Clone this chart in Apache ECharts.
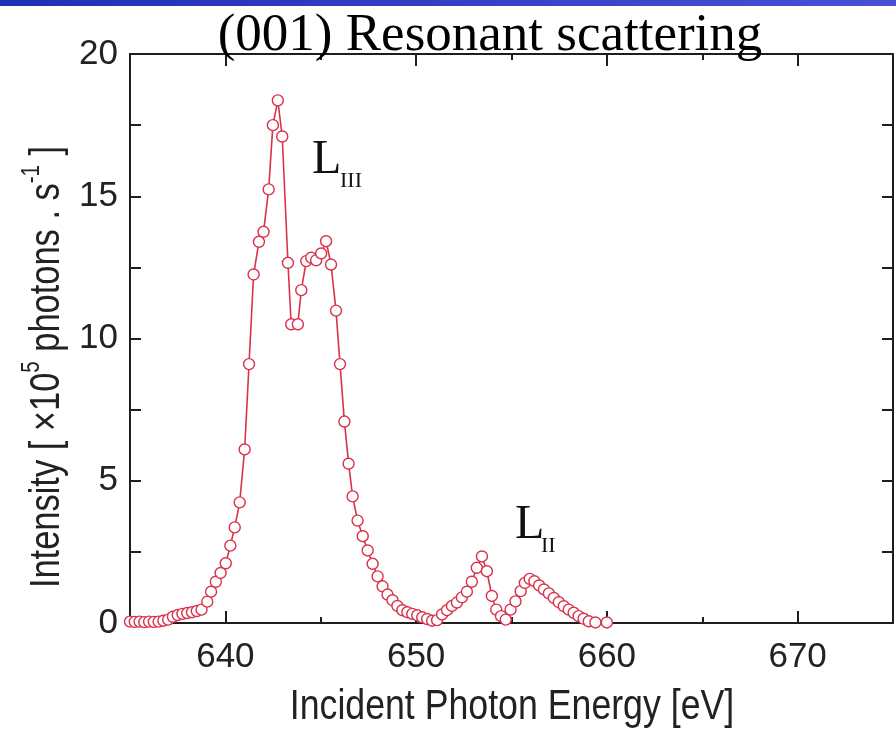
<!DOCTYPE html>
<html>
<head>
<meta charset="utf-8">
<script src="https://cdn.jsdelivr.net/npm/echarts@6/dist/echarts.min.js"></script>
<style>
html,body{margin:0;padding:0;background:#fff;}
#chart{width:896px;height:729px;}
</style>
</head>
<body>
<div id="chart"></div>
<script>
const energy = [
  635.0,635.25,635.5,635.75,636.0,636.25,636.5,636.75,637.0,637.25,637.5,637.75,638.0,638.25,638.5,638.75,
  639.05,639.25,639.5,639.75,640.02,640.26,640.49,640.75,641.01,641.24,641.48,641.76,
  642.0,642.27,642.49,642.75,642.98,643.28,643.45,643.8,643.98,644.24,644.5,644.76,
  645.02,645.28,645.54,645.8,646.01,646.24,646.46,646.67,646.93,647.2,647.46,647.72,647.98,
  648.24,648.5,648.76,649.02,649.28,649.54,649.8,650.06,650.32,650.58,650.84,
  651.1,651.36,651.62,651.88,652.14,652.4,652.66,652.92,653.18,653.45,653.71,653.97,
  654.2,654.45,654.7,654.95,655.21,655.48,655.7,655.95,656.2,656.45,656.7,656.96,
  657.22,657.48,657.74,658.0,658.26,658.52,658.78,659.05,659.4,660.0
];
const intensity = [
  0.05,0.04,0.05,0.03,0.05,0.04,0.05,0.08,0.12,0.22,0.28,0.32,0.35,0.38,0.42,0.47,
  0.75,1.1,1.45,1.76,2.1,2.72,3.36,4.24,6.1,9.1,12.25,13.4,
  13.75,15.24,17.5,18.37,17.1,12.66,10.5,10.5,11.7,12.72,12.84,12.75,
  12.99,13.42,12.6,10.98,9.1,7.08,5.6,4.45,3.6,3.05,2.55,2.08,1.64,
  1.29,1.0,0.8,0.6,0.45,0.38,0.32,0.27,0.2,0.14,0.08,
  0.1,0.3,0.45,0.6,0.72,0.9,1.1,1.45,1.94,2.34,1.82,0.95,
  0.47,0.24,0.12,0.47,0.76,1.12,1.41,1.55,1.47,1.32,1.18,1.04,
  0.88,0.73,0.59,0.47,0.36,0.24,0.15,0.06,0.02,0.02
];
const xMajorTicks = [640, 650, 660, 670];
const xMinorTicks = [645, 655, 665];
const titleText = '(001) Resonant scattering';
const xName = 'Incident Photon Energy [eV]';

const ink = '#1e1e1e';
const red = '#d9324a';
const sans = '"Liberation Sans", Arial, sans-serif';
const serif = '"Liberation Serif", "Times New Roman", serif';

const chart = echarts.init(document.getElementById('chart'), null, {renderer: 'canvas'});

function xAx(pos, ticks, len, showLine, showLabel) {
  return {
    type: 'value', min: 635, max: 675, position: pos,
    axisLine: {show: showLine, onZero: false, lineStyle: {color: ink, width: 2}},
    axisTick: {show: true, inside: true, length: len, customValues: ticks, lineStyle: {color: ink, width: 2}},
    axisLabel: {show: showLabel, customValues: ticks, fontSize: 35, color: '#222', fontFamily: sans, margin: 17},
    splitLine: {show: false}
  };
}

const option = {
  backgroundColor: '#fff',
  animation: false,
  grid: {left: 130, right: 3, top: 54, bottom: 106, containLabel: false, outerBoundsMode: 'none'},
  xAxis: [
    xAx('bottom', xMajorTicks, 12, true, true),
    xAx('bottom', xMinorTicks, 6, false, false),
    xAx('top', xMajorTicks, 12, true, false),
    xAx('top', xMinorTicks, 6, false, false)
  ],
  yAxis: [
    {
      type: 'value', min: 0, max: 20, interval: 2.5, position: 'left',
      axisLine: {show: true, onZero: false, lineStyle: {color: ink, width: 2}},
      axisTick: {show: true, inside: true, length: 11, lineStyle: {color: ink, width: 2}},
      axisLabel: {fontSize: 35, color: '#222', fontFamily: sans, margin: 12,
        formatter: v => (v % 5 === 0 ? String(v) : '')},
      splitLine: {show: false}
    },
    {
      type: 'value', min: 0, max: 20, interval: 2.5, position: 'right',
      axisLine: {show: true, onZero: false, lineStyle: {color: ink, width: 2}},
      axisTick: {show: true, inside: true, length: 11, lineStyle: {color: ink, width: 2}},
      axisLabel: {show: false},
      splitLine: {show: false}
    }
  ],
  series: [{
    type: 'line',
    xAxisIndex: 0, yAxisIndex: 0,
    data: energy.map((e, i) => [e, intensity[i]]),
    symbol: 'circle', symbolSize: 11,
    itemStyle: {color: '#fff', borderColor: red, borderWidth: 1.4},
    lineStyle: {color: red, width: 1.6},
    z: 3
  }],
  graphic: [
    {type: 'rect', left: 0, top: 0, z: 10,
      shape: {width: 896, height: 6},
      style: {fill: new echarts.graphic.LinearGradient(0, 0, 1, 0, [
        {offset: 0, color: '#1f2fb3'}, {offset: 1, color: '#4a4fd6'}])}},
    {type: 'text', x: 490, y: 36, z: 10,
      style: {text: titleText, font: '53px ' + serif, fill: '#000', align: 'center', verticalAlign: 'middle'}},
    {type: 'text', x: 512, y: 707, scaleX: 0.83, z: 10,
      style: {text: xName, font: '43px ' + sans, fill: '#222', align: 'center', verticalAlign: 'middle'}},
    {type: 'text', x: 44, y: 367, rotation: Math.PI / 2, scaleX: 0.82, z: 10,
      style: {
        text: '{n|Intensity [ ×10}{s|5}{n| photons . s}{s|-1}{n| ]}',
        align: 'center', verticalAlign: 'middle',
        rich: {
          n: {fontSize: 42, fontFamily: sans, fill: '#222', lineHeight: 48, verticalAlign: 'bottom'},
          s: {fontSize: 25, fontFamily: sans, fill: '#222', lineHeight: 48, verticalAlign: 'top'}
        }
      }},
    {type: 'text', x: 312, y: 160, z: 10,
      style: {text: 'L', font: '48px ' + serif, fill: '#111', align: 'left', verticalAlign: 'middle'}},
    {type: 'text', x: 340, y: 181, z: 10,
      style: {text: 'III', font: '22px ' + serif, fill: '#111', align: 'left', verticalAlign: 'middle'}},
    {type: 'text', x: 515, y: 525, z: 10,
      style: {text: 'L', font: '48px ' + serif, fill: '#111', align: 'left', verticalAlign: 'middle'}},
    {type: 'text', x: 541, y: 546, z: 10,
      style: {text: 'II', font: '22px ' + serif, fill: '#111', align: 'left', verticalAlign: 'middle'}}
  ]
};
chart.setOption(option);
</script>
</body>
</html>
